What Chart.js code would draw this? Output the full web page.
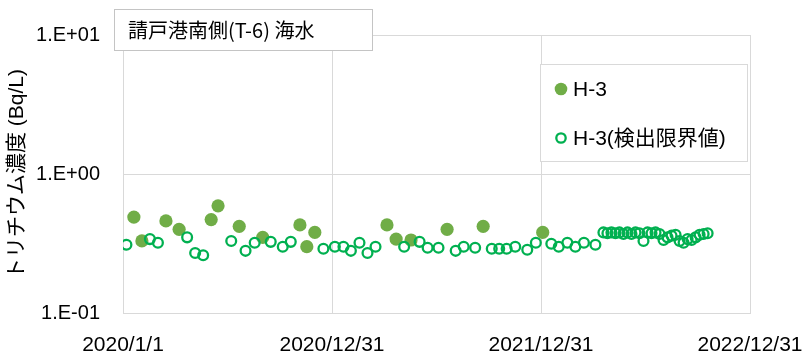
<!DOCTYPE html>
<html>
<head>
<meta charset="utf-8">
<script src="https://cdn.jsdelivr.net/npm/chart.js@4.4.1/dist/chart.umd.min.js"></script>
<style>
  html, body { margin: 0; padding: 0; background: #fff; }
  #wrap { width: 810px; height: 353px; position: relative; }
</style>
</head>
<body>
<div id="wrap"><canvas id="c" width="810" height="353"></canvas></div>
<script>
// Tritium (H-3) in seawater, south side of Ukedo port (T-6)
const titleText = '請戸港南側(T-6) 海水';
const axisTitle = 'トリチウム濃度 (Bq/L)';
const seriesNames = ['H-3', 'H-3(検出限界値)'];

// detected values (Bq/L)
const detectedDates = [
  '2020-01-20','2020-02-03','2020-03-16','2020-04-08','2020-06-03','2020-06-15',
  '2020-07-22','2020-09-01','2020-11-05','2020-11-17','2020-12-01','2021-04-06',
  '2021-04-22','2021-05-18','2021-07-20','2021-09-21','2022-01-03'
];
const detectedValues = [
  0.49, 0.33, 0.46, 0.40, 0.47, 0.59,
  0.42, 0.35, 0.43, 0.30, 0.38, 0.43,
  0.34, 0.335, 0.40, 0.42, 0.38
];

// below detection: detection limit values (Bq/L)
const limitDates = [
  '2020-01-07','2020-02-17','2020-03-02','2020-04-22','2020-05-06','2020-05-20',
  '2020-07-08','2020-08-02','2020-08-18','2020-09-15','2020-10-06','2020-10-20',
  '2020-12-16','2021-01-05','2021-01-20','2021-02-02','2021-02-17','2021-03-03',
  '2021-03-17','2021-05-06','2021-06-02','2021-06-16','2021-07-05','2021-08-04',
  '2021-08-18','2021-09-07','2021-10-06','2021-10-19','2021-11-01','2021-11-16',
  '2021-12-07','2021-12-22','2022-01-18','2022-01-31','2022-02-15','2022-03-01',
  '2022-03-16','2022-04-05',
  '2022-04-19','2022-04-26','2022-05-03','2022-05-10','2022-05-17','2022-05-24',
  '2022-05-31','2022-06-07','2022-06-14','2022-06-21','2022-06-28','2022-07-05',
  '2022-07-12','2022-07-19','2022-07-26','2022-08-02','2022-08-09','2022-08-16',
  '2022-08-23','2022-08-30','2022-09-06','2022-09-13','2022-09-20','2022-09-27',
  '2022-10-04','2022-10-11','2022-10-18'
];
const limitValues = [
  0.31, 0.34, 0.32, 0.35, 0.27, 0.26,
  0.33, 0.28, 0.32, 0.325, 0.30, 0.325,
  0.29, 0.30, 0.30, 0.28, 0.32, 0.27,
  0.30, 0.30, 0.325, 0.295, 0.295, 0.28,
  0.30, 0.295, 0.29, 0.29, 0.29, 0.30,
  0.285, 0.32, 0.315, 0.30, 0.32, 0.30,
  0.32, 0.31,
  0.38, 0.375, 0.38, 0.375, 0.38, 0.37,
  0.38, 0.37, 0.38, 0.375, 0.33, 0.38,
  0.375, 0.38, 0.37, 0.335, 0.35, 0.36,
  0.365, 0.33, 0.32, 0.34, 0.335, 0.35,
  0.365, 0.37, 0.375
];

// axis ticks
const xTickLabels = ['2020/1/1', '2020/12/31', '2021/12/31', '2022/12/31'];
const yTickValues = [0.1, 1, 10];
const yTickLabels = ['1.E-01', '1.E+00', '1.E+01'];

// dates are placed on a linear axis as days since the first tick
const DAY = 86400000;
function parseYMD(s) {
  const p = s.split(/[-\/]/).map(Number);
  return Date.UTC(p[0], p[1] - 1, p[2]);
}
const origin = parseYMD(xTickLabels[0]);
const toDay = s => Math.round((parseYMD(s) - origin) / DAY);
const xTickDays = xTickLabels.map(toDay);

const detectedPoints = detectedDates.map((d, i) => ({ x: toDay(d), y: detectedValues[i] }));
const limitPoints = limitDates.map((d, i) => ({ x: toDay(d), y: limitValues[i] }));

const FILLED = '#70AD47';
const OPEN = '#00B050';
const GRID = '#d9d9d9';
const LATIN = '"Liberation Sans", "Noto Sans CJK JP", sans-serif';

// framed title and legend drawn over the plot
const framePlugin = {
  id: 'frames',
  afterDraw(chart) {
    const { ctx, chartArea: a } = chart;
    ctx.save();

    // title box
    const tx = a.left - 9, ty = a.top - 26;
    ctx.fillStyle = '#fff';
    ctx.fillRect(tx, ty, 258, 41);
    ctx.strokeStyle = '#c4c4c4';
    ctx.lineWidth = 1;
    ctx.strokeRect(tx + 0.5, ty + 0.5, 258, 41);
    ctx.fillStyle = '#000';
    ctx.font = '20px "Noto Sans CJK JP", sans-serif';
    ctx.textBaseline = 'middle';
    ctx.textAlign = 'left';
    ctx.fillText(titleText, tx + 14, ty + 21);

    // legend box
    const lx = a.right - 210, ly = a.top + 29, lw = 207, lh = 97;
    ctx.fillStyle = '#fff';
    ctx.fillRect(lx, ly, lw, lh);
    ctx.strokeStyle = GRID;
    ctx.strokeRect(lx + 0.5, ly + 0.5, lw, lh);

    const mx = lx + 21;
    const rows = [ly + 25, ly + 74];
    // filled marker
    ctx.beginPath();
    ctx.arc(mx, rows[0], 6.3, 0, Math.PI * 2);
    ctx.fillStyle = FILLED;
    ctx.fill();
    // open marker
    ctx.beginPath();
    ctx.arc(mx, rows[1], 4.7, 0, Math.PI * 2);
    ctx.strokeStyle = OPEN;
    ctx.lineWidth = 2.3;
    ctx.stroke();

    ctx.fillStyle = '#000';
    ctx.font = '21px ' + LATIN;
    ctx.fillText(seriesNames[0], mx + 12, rows[0] + 1);
    ctx.fillText(seriesNames[1], mx + 12, rows[1] + 1);
    ctx.restore();
  }
};

Chart.defaults.font.family = LATIN;
Chart.defaults.color = '#000';

new Chart(document.getElementById('c'), {
  type: 'scatter',
  data: {
    datasets: [
      {
        label: seriesNames[0],
        data: detectedPoints,
        pointStyle: 'circle',
        pointRadius: 6.6,
        pointHoverRadius: 6.6,
        backgroundColor: FILLED,
        borderWidth: 0,
        order: 2
      },
      {
        label: seriesNames[1],
        data: limitPoints,
        pointStyle: 'circle',
        pointRadius: 4.9,
        pointHoverRadius: 4.9,
        backgroundColor: 'rgba(0,0,0,0)',
        borderColor: OPEN,
        borderWidth: 2.3,
        order: 1
      }
    ]
  },
  options: {
    responsive: false,
    animation: false,
    events: [],
    layout: { padding: { left: 0, top: 35, right: 60, bottom: 0 } },
    plugins: {
      legend: { display: false },
      tooltip: { enabled: false },
      title: { display: false }
    },
    scales: {
      x: {
        type: 'linear',
        min: xTickDays[0],
        max: xTickDays[xTickDays.length - 1],
        afterBuildTicks: s => { s.ticks = xTickDays.map(v => ({ value: v })); },
        afterFit: s => { s.height = 40; s.paddingLeft = 0; s.paddingRight = 0; },
        ticks: {
          autoSkip: false,
          maxRotation: 0,
          padding: 20,
          font: { size: 21 },
          color: '#000',
          callback: (v, i) => xTickLabels[i]
        },
        grid: { color: GRID, lineWidth: 1, drawTicks: false },
        border: { color: GRID, width: 1 }
      },
      y: {
        type: 'logarithmic',
        min: yTickValues[0],
        max: yTickValues[yTickValues.length - 1],
        afterBuildTicks: s => { s.ticks = yTickValues.map(v => ({ value: v })); },
        afterFit: s => { s.width = 123; s.paddingTop = 0; s.paddingBottom = 0; },
        ticks: {
          autoSkip: false,
          padding: 23,
          font: { size: 20 },
          color: '#000',
          callback: (v, i) => yTickLabels[i]
        },
        title: {
          display: true,
          text: axisTitle,
          font: { size: 21 },
          color: '#000',
          padding: { top: 5, bottom: 0 }
        },
        grid: { color: GRID, lineWidth: 1, drawTicks: false },
        border: { color: GRID, width: 1 }
      }
    }
  },
  plugins: [framePlugin]
});
</script>
</body>
</html>
